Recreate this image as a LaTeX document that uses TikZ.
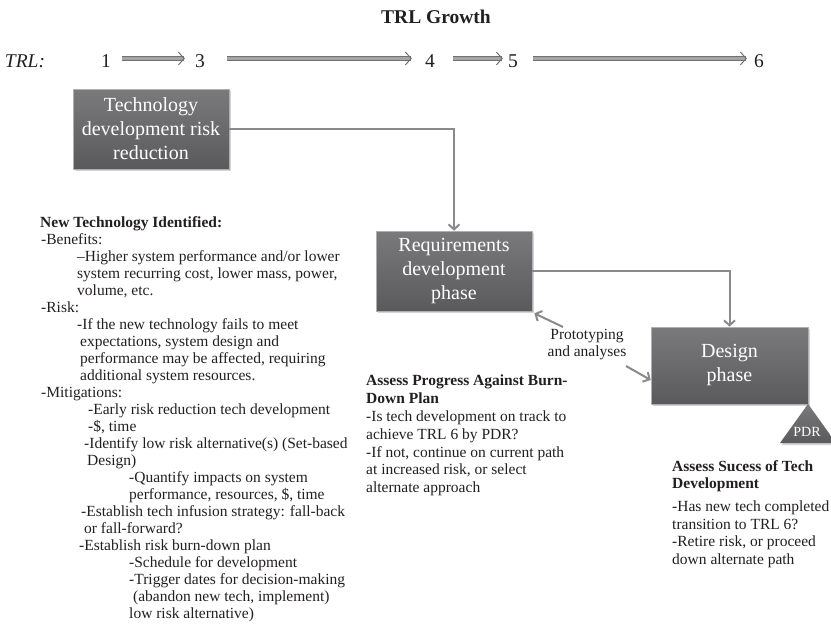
\documentclass[tikz,border=0pt]{standalone}
\usepackage{fontspec}
\setmainfont{Liberation Serif}
\usetikzlibrary{arrows.meta,shadows}
\definecolor{ink}{RGB}{35,31,32}
\definecolor{boxtop}{RGB}{122,122,124}
\definecolor{boxbot}{RGB}{90,90,92}
\definecolor{boxrim}{RGB}{175,175,175}
\definecolor{wiregray}{RGB}{138,138,138}
\definecolor{trlrim}{RGB}{112,112,112}
\definecolor{trlcore}{RGB}{165,165,165}
\tikzset{
  phase/.style={draw=boxrim, line width=0.6pt, top color=boxtop, bottom color=boxbot,
    minimum width=156pt, minimum height=80pt, inner sep=0pt, align=center,
    text=white, font=\fontsize{20}{24}\selectfont,
    drop shadow={shadow xshift=1.5pt, shadow yshift=-2pt, opacity=0.35}},
  trlnum/.style={inner sep=0pt, text=ink, font=\fontsize{19.5}{22}\selectfont},
  growth/.style={draw=trlrim, double=trlcore, line width=0.95pt, double distance=2.6pt,
    -{Straight Barb[length=6pt,width=13pt]}},
  wire/.style={draw=wiregray, line width=2pt, -{Straight Barb[length=5pt,width=11pt]}},
  notes/.style={inner sep=0pt, align=left, text=ink, anchor=north west,
    font=\fontsize{15.5}{17}\selectfont},
}
\begin{document}
\begin{tikzpicture}[x=1pt,y=-1pt]
\useasboundingbox (0,0) rectangle (831,624);

% heading and TRL scale
\node[text=ink, font=\bfseries\fontsize{19.5}{22}\selectfont] (title) at (436,17) {TRL Growth};
\node[trlnum, font=\itshape\fontsize{19.5}{22}\selectfont] (trllabel) at (25,61) {TRL:};
\node[trlnum] (n1) at (106,61) {1};
\node[trlnum] (n3) at (200,61) {3};
\node[trlnum] (n4) at (430,61) {4};
\node[trlnum] (n5) at (513,61) {5};
\node[trlnum] (n6) at (759,61) {6};
\draw[growth, shorten <=11pt, shorten >=10pt] ([yshift=2.5pt]n1.east) -- ([yshift=2.5pt]n3.west);
\draw[growth, shorten <=22pt, shorten >=13pt] ([yshift=2.5pt]n3.east) -- ([yshift=2.5pt]n4.west);
\draw[growth, shorten <=18pt, shorten >=5pt] ([yshift=2.5pt]n4.east) -- ([yshift=2.5pt]n5.west);
\draw[growth, shorten <=15pt, shorten >=7pt] ([yshift=2.5pt]n5.east) -- ([yshift=2.5pt]n6.west);

% phase boxes
\node[phase] (t1) at (151,129) {Technology\\development risk\\reduction};
\node[phase] (t2) at (454,271) {Requirements\\development\\phase};
\node[phase, minimum width=157pt, minimum height=77pt] (t3) at (729.5,365.5) {Design\\phase};

\draw[wire] (t1.east) -| (t2.north);
\draw[wire] (t2.east) -| (t3.north);

% PDR milestone
\path[top color=boxtop, bottom color=boxbot,
      drop shadow={shadow xshift=1.5pt, shadow yshift=-2pt, opacity=0.35}]
  (808,404) -- (836,443) -- (780,443) -- cycle;
\node[inner sep=0pt, text=white, font=\fontsize{14}{16}\selectfont] (pdr) at (807,432) {PDR};

% prototyping feedback
\node[inner sep=0pt, align=center, text=ink, font=\fontsize{15.5}{17}\selectfont] (proto) at (587,345) {Prototyping\\and analyses};
\coordinate (pa) at (563,327);
\coordinate (pb) at (626,366);
\draw[wire] (pa) -- ([xshift=2pt,yshift=-2pt]t2.south east);
\draw[wire] (pb) -- ([yshift=-14.5pt]t3.west);

% notes
\node[notes] (newtech) at (40,216) {\textbf{New Technology Identified:}\\
\hspace*{1pt}-Benefits:\\
\hspace*{37pt}–Higher system performance and/or lower\\
\hspace*{37pt}system recurring cost, lower mass, power,\\
\hspace*{37pt}volume, etc.\\
\hspace*{1pt}-Risk:\\
\hspace*{37pt}-If the new technology fails to meet\\
\hspace*{40pt}expectations, system design and\\
\hspace*{40pt}performance may be affected, requiring\\
\hspace*{40pt}additional system resources.\\
\hspace*{1pt}-Mitigations:\\
\hspace*{48pt}-Early risk reduction tech development\\
\hspace*{48pt}-\$, time\\
\hspace*{44pt}-Identify low risk alternative(s) (Set-based\\
\hspace*{47pt}Design)\\
\hspace*{89pt}-Quantify impacts on system\\
\hspace*{89pt}performance, resources, \$, time\\
\hspace*{41pt}-Establish tech infusion strategy: fall-back\\
\hspace*{44pt}or fall-forward?\\
\hspace*{39pt}-Establish risk burn-down plan\\
\hspace*{89pt}-Schedule for development\\
\hspace*{89pt}-Trigger dates for decision-making\\
\hspace*{93pt}(abandon new tech, implement)\\
\hspace*{89pt}low risk alternative)};

\node[notes, font=\fontsize{15.5}{17.8}\selectfont] (progress) at (366,375) {\textbf{Assess Progress Against Burn-}\\
\textbf{Down Plan}\\
-Is tech development on track to\\
achieve TRL 6 by PDR?\\
-If not, continue on current path\\
at increased risk, or select\\
alternate approach};

\node[notes, font=\fontsize{15.5}{17.7}\selectfont] (success) at (672,460) {\textbf{Assess Sucess of Tech}\\
\textbf{Development}\\[5pt]
-Has new tech completed\\
transition to TRL 6?\\
-Retire risk, or proceed\\
down alternate path};
\end{tikzpicture}
\end{document}
